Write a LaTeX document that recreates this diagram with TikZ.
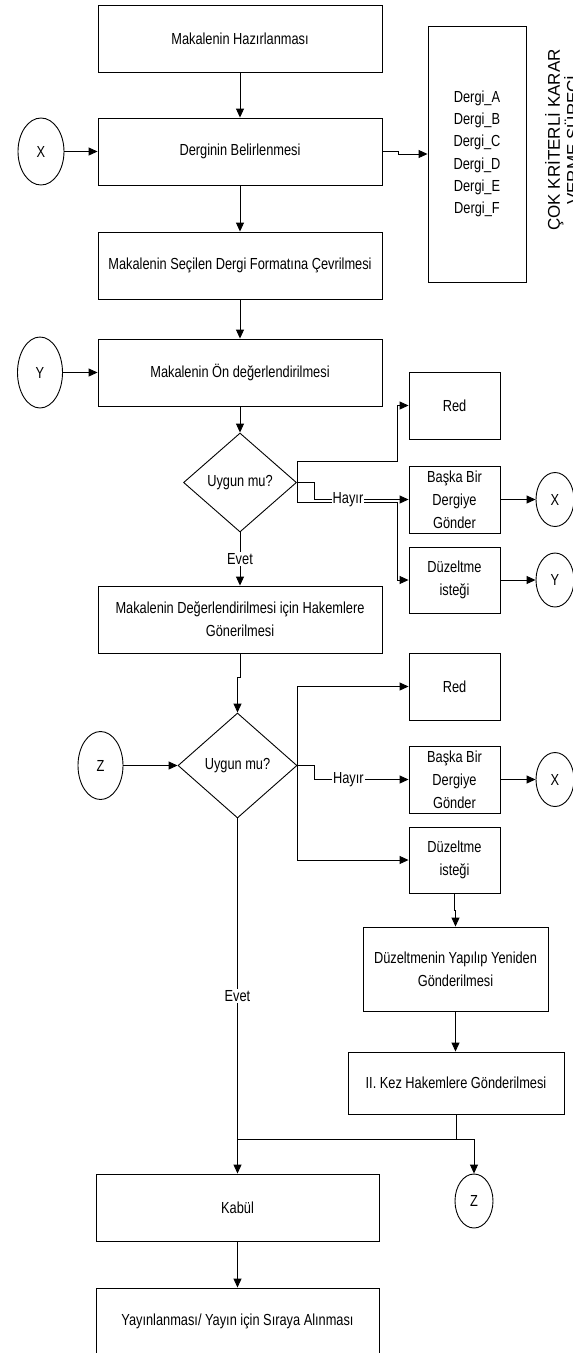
\documentclass[tikz,border=0pt]{standalone}
\usepackage{fontspec}
\setmainfont{Liberation Sans}
\newfontfamily\dar{Liberation Sans}[FakeStretch=0.8]
\usetikzlibrary{shapes.geometric,arrows.meta}

\tikzset{
  kutu/.style={draw=black, line width=0.9pt, rectangle, minimum width=284pt, minimum height=67pt,
    inner sep=0pt, align=center, font=\dar\fontsize{16}{23}\selectfont},
  kucuk/.style={kutu, minimum width=91pt, minimum height=67pt},
  karar/.style={draw=black, line width=0.9pt, diamond, minimum width=113pt, minimum height=99pt,
    inner sep=0pt, font=\dar\fontsize{16}{23}\selectfont},
  baglanti/.style={draw=black, line width=0.9pt, ellipse, minimum width=46pt, minimum height=68pt,
    inner sep=0pt, font=\dar\fontsize{16}{23}\selectfont},
  baglantiK/.style={baglanti, minimum width=38pt, minimum height=54pt},
  ok/.style={-{Triangle[length=9pt,width=8pt]}, line width=0.9pt},
  etiket/.style={fill=white, inner sep=1pt, font=\dar\fontsize{16}{23}\selectfont}
}

\begin{document}
\begin{tikzpicture}[x=1pt, y=-1pt]
  \clip (0,0) rectangle (573,1353);
  \fill[white] (0,0) rectangle (573,1353);

  \node[kutu] (hazirlama) at (240,38.5) {Makalenin Hazırlanması};
  \node[kutu] (belirleme) at (240,151.5) {Derginin Belirlenmesi};
  \node[kutu] (format) at (240,265.5) {Makalenin Seçilen Dergi Formatına Çevrilmesi};
  \node[kutu] (onDeger) at (240,372.5) {Makalenin Ön değerlendirilmesi};
  \node[karar] (uygun1) at (240,482.5) {Uygun mu?};
  \node[kutu] (hakem) at (240,619.5) {Makalenin Değerlendirilmesi için Hakemlere\\Gönerilmesi};
  \node[karar, minimum width=119pt, minimum height=105pt] (uygun2) at (237.5,765.5) {Uygun mu?};
  \node[kutu, minimum width=283pt] (kabul) at (237.5,1207.5) {Kabül};
  \node[kutu, minimum width=283pt] (yayin) at (237.5,1321.5) {Yayınlanması/ Yayın için Sıraya Alınması};

  \node[kutu, minimum width=98pt, minimum height=256pt, font=\dar\fontsize{16}{22.3}\selectfont] (dergiler) at (477,154)
    {Dergi\_A\\Dergi\_B\\Dergi\_C\\Dergi\_D\\Dergi\_E\\Dergi\_F};
  \node[rotate=90, align=center, font=\fontsize{17}{19}\selectfont] (baslik) at (562,140)
    {ÇOK KRİTERLİ KARAR\\VERME SÜRECİ};

  \node[kucuk] (red1) at (454.5,405.5) {Red};
  \node[kucuk] (baska1) at (454.5,499.5) {Başka Bir\\Dergiye\\Gönder};
  \node[kucuk, minimum height=66pt] (istek1) at (454.5,580) {Düzeltme\\isteği};
  \node[kucuk] (red2) at (454.5,686.5) {Red};
  \node[kucuk] (baska2) at (454.5,779.5) {Başka Bir\\Dergiye\\Gönder};
  \node[kucuk, minimum height=66pt] (istek2) at (454.5,860) {Düzeltme\\isteği};
  \node[kutu, minimum width=185pt, minimum height=84pt] (yeniden) at (455.5,969) {Düzeltmenin Yapılıp Yeniden\\Gönderilmesi};
  \node[kutu, minimum width=216pt, minimum height=62pt] (ikinci) at (456,1083) {II. Kez Hakemlere Gönderilmesi};

  \node[baglanti, minimum height=67pt] (xSol) at (41,151.5) {X};
  \node[baglanti, minimum width=45pt, minimum height=71pt] (ySol) at (40,372.5) {Y};
  \node[baglanti, minimum width=45pt] (zSol) at (100.5,765.5) {Z};
  \node[baglantiK] (xSag1) at (555,499.5) {X};
  \node[baglantiK] (ySag1) at (555,580) {Y};
  \node[baglantiK] (xSag2) at (555,779.5) {X};
  \node[baglantiK] (zAlt) at (474,1201) {Z};

  \draw[ok] (hazirlama) -- (belirleme);
  \draw[ok] (belirleme) -- (format);
  \draw[ok] (format) -- (onDeger);
  \draw[ok] (onDeger) -- (uygun1);
  \draw[ok] (uygun1) -- node[etiket] {Evet} (hakem);
  \draw[ok] (hakem.south) -- ++(0,24) -| (uygun2.north);
  \draw[ok] (uygun2) -- node[etiket] {Evet} (kabul);
  \draw[ok] (kabul) -- (yayin);

  \draw[ok] (xSol) -- (belirleme);
  \draw[ok] (ySol) -- (onDeger);
  \draw[ok] (zSol) -- (uygun2);
  \draw[ok] (belirleme.east) -- ++(16,0) |- (dergiler.west);

  \draw[ok] (uygun1.east) -- ++(0,-21) -- ++(100,0) |- (red1.west);
  \draw[ok] (uygun1.east) -- ++(0,19.5) -- ++(100,0) |- (istek1.west);
  \draw[ok] (uygun1.east) -- ++(17,0) |- node[etiket, pos=0.68] {Hayır} (baska1.west);
  \draw[ok] (baska1) -- (xSag1);
  \draw[ok] (istek1) -- (ySag1);

  \draw[ok] (uygun2.east) |- (red2.west);
  \draw[ok] (uygun2.east) |- (istek2.west);
  \draw[ok] (uygun2.east) -- ++(17,0) |- node[etiket, pos=0.68] {Hayır} (baska2.west);
  \draw[ok] (baska2) -- (xSag2);

  \draw[ok] (istek2.south) -- ++(0,17) -| (yeniden.north);
  \draw[ok] (yeniden.south) -- (yeniden.south |- ikinci.north);
  \draw (ikinci.south) -- ++(0,25) coordinate (birles);
  \draw (birles) -- (birles -| kabul.north);
  \draw[ok] (birles) -| (zAlt.north);
\end{tikzpicture}
\end{document}
